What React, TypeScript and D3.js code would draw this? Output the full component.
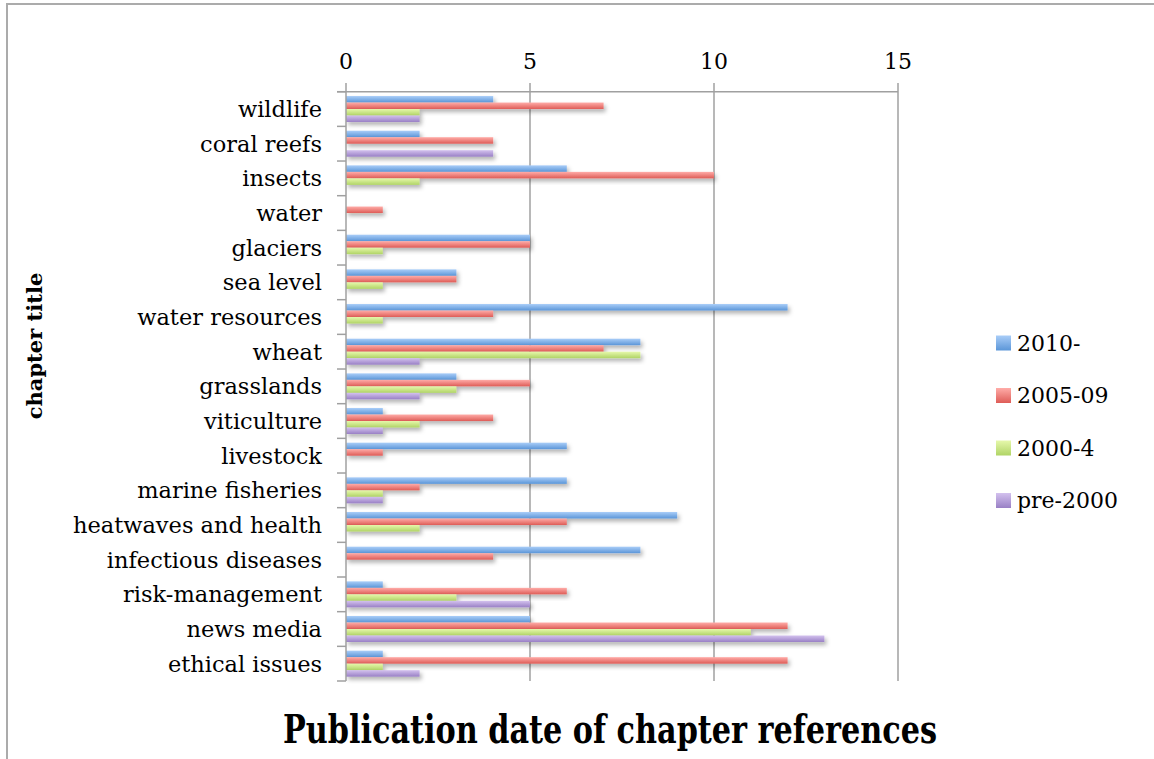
import React, { useEffect, useRef } from 'react';
import * as d3 from 'd3';

const chapters = [
  'wildlife', 'coral reefs', 'insects', 'water', 'glaciers', 'sea level',
  'water resources', 'wheat', 'grasslands', 'viticulture', 'livestock',
  'marine fisheries', 'heatwaves and health', 'infectious diseases',
  'risk-management', 'news media', 'ethical issues',
];

const seriesNames = ['2010-', '2005-09', '2000-4', 'pre-2000'];

const since2010 = [4, 2, 6, 0, 5, 3, 12, 8, 3, 1, 6, 6, 9, 8, 1, 5, 1];
const from2005 = [7, 4, 10, 1, 5, 3, 4, 7, 5, 4, 1, 2, 6, 4, 6, 12, 12];
const from2000 = [2, 0, 2, 0, 1, 1, 1, 8, 3, 2, 0, 1, 2, 0, 3, 11, 1];
const pre2000 = [2, 4, 0, 0, 0, 0, 0, 2, 2, 1, 0, 1, 0, 0, 5, 13, 2];

const xTicks = [0, 5, 10, 15];

// gradient stops (top, bottom) per series
const seriesColors = [
  ['#a9cdf8', '#5b96d8'],
  ['#ffaca8', '#de5c57'],
  ['#e6f8ab', '#b0d466'],
  ['#d3c1ee', '#9980c5'],
];

export default function App() {
  const svgRef = useRef<SVGSVGElement>(null);

  useEffect(() => {
    if (!svgRef.current) return;
    const root = d3.select(svgRef.current);
    root.selectAll('*').remove();

    const W = 1154;
    const H = 759;
    root.attr('width', W).attr('height', H);

    const font = '"DejaVu Serif", serif';
    const values = [since2010, from2005, from2000, pre2000];

    const defs = root.append('defs');
    seriesColors.forEach((c, i) => {
      const g = defs.append('linearGradient')
        .attr('id', `grad${i}`)
        .attr('x1', 0).attr('y1', 0).attr('x2', 0).attr('y2', 1);
      g.append('stop').attr('offset', '0%').attr('stop-color', c[0]);
      g.append('stop').attr('offset', '100%').attr('stop-color', c[1]);
    });
    defs.append('filter')
      .attr('id', 'shadow')
      .attr('x', '-10%').attr('y', '-50%').attr('width', '130%').attr('height', '250%')
      .append('feDropShadow')
      .attr('dx', 2).attr('dy', 3).attr('stdDeviation', 2)
      .attr('flood-color', '#000').attr('flood-opacity', 0.3);

    // frame
    root.append('rect')
      .attr('x', 7).attr('y', 4)
      .attr('width', W + 50).attr('height', H + 50)
      .attr('fill', '#fff')
      .attr('stroke', '#ababab').attr('stroke-width', 2);

    const x = d3.scaleLinear().domain([0, 15]).range([346, 898]);
    const y = d3.scaleBand().domain(chapters).range([91.7, 681]).padding(0);
    const inner = d3.scaleBand<number>()
      .domain([0, 1, 2, 3])
      .range([y.bandwidth() * 0.125, y.bandwidth() * 0.875]);

    const grid = '#a0a0a0';

    // vertical gridlines
    root.append('g').selectAll('line')
      .data(xTicks.slice(1))
      .enter().append('line')
      .attr('x1', d => x(d)).attr('x2', d => x(d))
      .attr('y1', 83).attr('y2', 681)
      .attr('stroke', grid).attr('stroke-width', 1.5);

    // top axis
    root.append('line')
      .attr('x1', 337).attr('x2', x(15))
      .attr('y1', 91.7).attr('y2', 91.7)
      .attr('stroke', grid).attr('stroke-width', 1.5);
    root.append('line')
      .attr('x1', x(0)).attr('x2', x(0))
      .attr('y1', 83).attr('y2', 91.7)
      .attr('stroke', grid).attr('stroke-width', 1.5);

    root.append('g').selectAll('text')
      .data(xTicks)
      .enter().append('text')
      .attr('x', d => x(d))
      .attr('y', 69)
      .attr('text-anchor', 'middle')
      .attr('font-family', font)
      .attr('font-size', 22)
      .attr('fill', '#000')
      .text(d => d);

    // bars
    const groups = root.append('g')
      .selectAll('g')
      .data(chapters)
      .enter().append('g')
      .attr('transform', d => `translate(0,${y(d)})`);

    groups.selectAll('rect')
      .data((_, ci) => values.map((s, si) => ({ si, v: s[ci] })).filter(d => d.v > 0))
      .enter().append('rect')
      .attr('x', x(0))
      .attr('y', d => inner(d.si) as number)
      .attr('width', d => x(d.v) - x(0))
      .attr('height', inner.bandwidth())
      .attr('fill', d => `url(#grad${d.si})`)
      .attr('filter', 'url(#shadow)');

    // y axis
    root.append('line')
      .attr('x1', x(0)).attr('x2', x(0))
      .attr('y1', 91.7).attr('y2', 681)
      .attr('stroke', grid).attr('stroke-width', 1.5);
    const bounds = chapters.map(c => y(c) as number).concat([681]);
    root.append('g').selectAll('line')
      .data(bounds)
      .enter().append('line')
      .attr('x1', 337).attr('x2', x(0))
      .attr('y1', d => d).attr('y2', d => d)
      .attr('stroke', grid).attr('stroke-width', 1.5);

    root.append('g').selectAll('text')
      .data(chapters)
      .enter().append('text')
      .attr('x', 322)
      .attr('y', d => (y(d) as number) + y.bandwidth() / 2)
      .attr('dy', '0.35em')
      .attr('text-anchor', 'end')
      .attr('font-family', font)
      .attr('font-size', 22.5)
      .attr('fill', '#000')
      .text(d => d);

    // axis titles
    root.append('text')
      .attr('transform', 'translate(42,346) rotate(-90)')
      .attr('text-anchor', 'middle')
      .attr('font-family', font)
      .attr('font-weight', 'bold')
      .attr('font-size', 21)
      .attr('fill', '#000')
      .text('chapter title');

    root.append('text')
      .attr('x', 610)
      .attr('y', 743)
      .attr('text-anchor', 'middle')
      .attr('font-family', '"DejaVu Serif Condensed", "DejaVu Serif", serif')
      .attr('font-weight', 'bold')
      .attr('font-size', 40)
      .attr('textLength', 654)
      .attr('lengthAdjust', 'spacingAndGlyphs')
      .attr('fill', '#000')
      .text('Publication date of chapter references');

    // legend
    const legend = root.append('g')
      .selectAll('g')
      .data(seriesNames)
      .enter().append('g')
      .attr('transform', (_, i) => `translate(996,${343 + i * 52.5})`);
    legend.append('rect')
      .attr('x', 0).attr('y', -7.5)
      .attr('width', 15).attr('height', 15)
      .attr('fill', (_, i) => `url(#grad${i})`);
    legend.append('text')
      .attr('x', 21)
      .attr('y', 0)
      .attr('dy', '0.35em')
      .attr('font-family', font)
      .attr('font-size', 22)
      .attr('fill', '#000')
      .text(d => d);
  }, []);

  return (
    <svg ref={svgRef} style={{ position: 'absolute', left: 0, top: 0 }}></svg>
  );
}
